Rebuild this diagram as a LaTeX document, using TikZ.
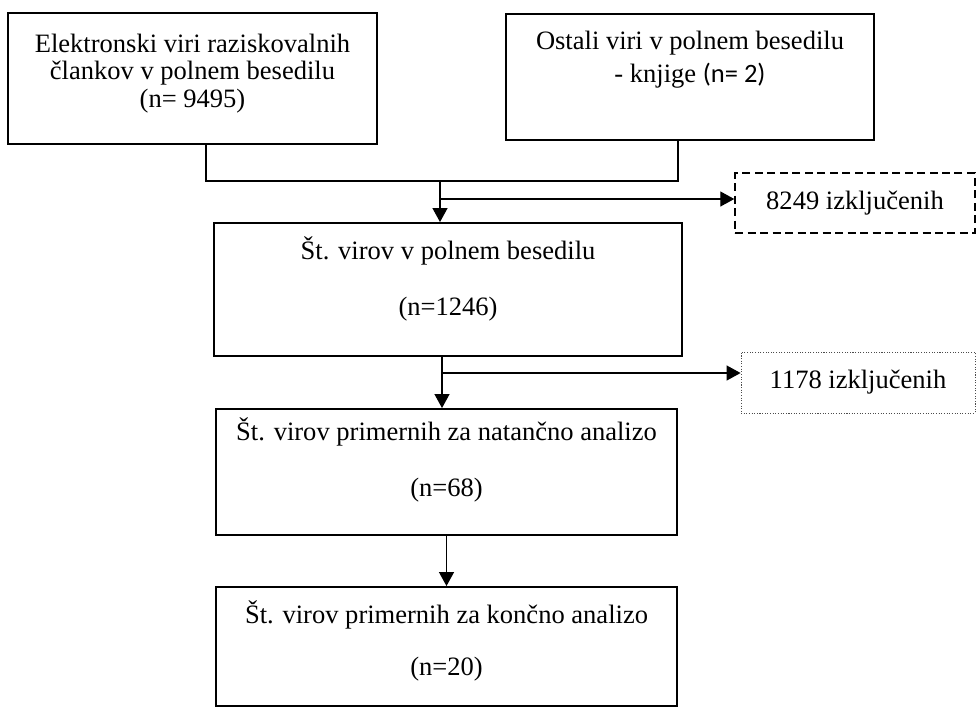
\documentclass[tikz,border=0pt]{standalone}
\usepackage{fontspec}
\setmainfont{Liberation Serif}
\newfontfamily\calibri{Carlito}
\usetikzlibrary{arrows.meta}

\begin{document}
\begin{tikzpicture}[x=0.02cm,y=-0.02cm,
  font=\fontsize{15.1}{15.6}\selectfont,
  box/.style={rectangle,draw,line width=1.1pt,align=center,inner sep=0pt},
  dashbox/.style={rectangle,draw,line width=0.85pt,dash pattern=on 0.16cm off 0.09cm,inner sep=0pt},
  dotbox/.style={rectangle,draw=black!70,line width=0.5pt,dash pattern=on 0.6pt off 0.9pt,inner sep=0pt},
  pot/.style={line width=0.7pt},
  arr/.style={pot,-{Triangle[length=0.28cm,width=0.3cm]}}]
\useasboundingbox (0,0) rectangle (976,707);

\node (elektr) at (192.5,78.5)[box,minimum width=7.38cm,minimum height=2.62cm] {Elektronski viri raziskovalnih\\člankov v polnem besedilu\\(n= 9495)\rule[-0.32cm]{0pt}{0pt}};
\node (ostali) at (690,77)[box,minimum width=7.36cm,minimum height=2.52cm] {Ostali viri v polnem besedilu\\[0.11cm]- knjige {\calibri(n= 2)}\rule[-0.8cm]{0pt}{0pt}};
\node (stevilo) at (448,289.5)[box,minimum width=9.36cm,minimum height=2.66cm] {Št. virov v polnem besedilu\\[0.57cm](n=1246)\rule[-0.54cm]{0pt}{0pt}};
\node (natancno) at (446.5,472)[box,minimum width=9.22cm,minimum height=2.52cm] {Št. virov primernih za natančno analizo\\[0.57cm](n=68)\rule[-0.6cm]{0pt}{0pt}};
\node (koncno) at (446.5,646.5)[box,minimum width=9.22cm,minimum height=2.38cm] {Št. virov primernih za končno analizo\\[0.5cm](n=20)\rule[-0.34cm]{0pt}{0pt}};
\node (izkl1) at (855,203)[dashbox,minimum width=4.8cm,minimum height=1.2cm] {8249 izključenih};
\node (izkl2) at (858,382.5)[dotbox,minimum width=4.68cm,minimum height=1.22cm] {1178 izključenih};

\coordinate (j1) at (206,181);
\coordinate (j2) at (678,181);
\coordinate (join) at (440,181);
\coordinate (split1) at (440,199);
\coordinate (split2) at (442,373);

\draw[pot] (elektr.south -| j1) -- (j1) -- (j2) -- (ostali.south -| j2);
\draw[arr] (join) -- (stevilo.north -| join);
\draw[arr] (split1) -- (split1 -| izkl1.west);
\draw[arr] (stevilo.south -| split2) -- (natancno.north -| split2);
\draw[arr] (split2) -- (split2 -| izkl2.west);
\draw[arr] (natancno.south) -- (koncno.north);

\end{tikzpicture}
\end{document}
